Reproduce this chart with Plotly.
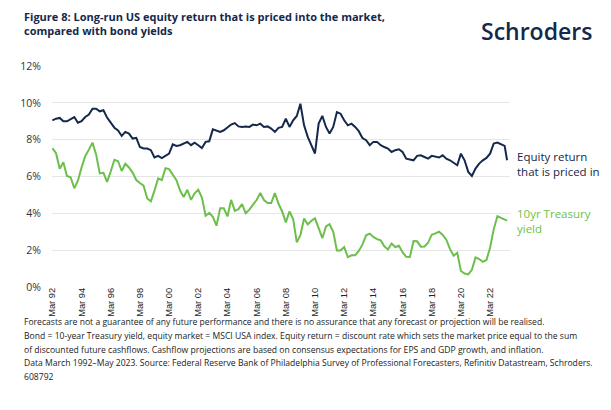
import pandas as pd
import plotly.graph_objects as go

# ---------------- data ----------------
dates = list(pd.date_range("1992-03-01", "2023-03-01", freq="3MS").strftime("%Y-%m-%d")) + ["2023-05-01"]

equity_return = [
    9.05, 9.14, 9.18, 9.00,   # 1992
    9.00, 9.14, 9.23, 8.92,   # 1993
    9.00, 9.23, 9.36, 9.68,   # 1994
    9.68, 9.54, 9.60, 9.20,   # 1995
    8.92, 8.65, 8.50, 8.20,   # 1996
    8.42, 8.33, 8.06, 8.10,   # 1997
    7.60, 7.52, 7.52, 7.43,   # 1998
    7.03, 7.12, 7.00, 7.12,   # 1999
    7.24, 7.75, 7.66, 7.70,   # 2000
    7.79, 7.88, 7.70, 7.84,   # 2001
    7.70, 7.55, 7.88, 7.91,   # 2002
    8.56, 8.51, 8.42, 8.51,   # 2003
    8.69, 8.82, 8.90, 8.72,   # 2004
    8.69, 8.72, 8.69, 8.82,   # 2005
    8.78, 8.87, 8.69, 8.72,   # 2006
    8.60, 8.42, 8.64, 8.69,   # 2007
    9.14, 8.69, 9.05, 9.29,   # 2008
    9.95, 8.78, 8.15, 7.66,   # 2009
    7.25, 8.87, 9.29, 8.69,   # 2010
    8.33, 8.69, 9.50, 9.41,   # 2011
    9.05, 8.78, 8.87, 8.69,   # 2012
    8.46, 8.09, 7.97, 7.70,   # 2013
    7.88, 7.88, 7.70, 7.60,   # 2014
    7.52, 7.33, 7.43, 7.48,   # 2015
    7.33, 6.97, 6.92, 6.88,   # 2016
    7.12, 7.15, 7.06, 6.97,   # 2017
    7.12, 7.06, 7.03, 7.15,   # 2018
    6.97, 6.88, 6.75, 6.61,   # 2019
    7.24, 6.88, 6.25, 6.03,   # 2020
    6.43, 6.70, 6.88, 7.01,   # 2021
    7.24, 7.79, 7.84, 7.73,   # 2022
    7.66, 6.88,               # 2023 (Mar, May)
]

treasury_yield = [
    7.54, 7.26, 6.42, 6.77,   # 1992
    6.03, 5.96, 5.36, 5.77,   # 1993
    6.48, 7.10, 7.46, 7.84,   # 1994
    7.20, 6.17, 6.20, 5.71,   # 1995
    6.27, 6.91, 6.83, 6.30,   # 1996
    6.69, 6.49, 6.21, 5.81,   # 1997
    5.65, 5.50, 4.81, 4.65,   # 1998
    5.23, 5.90, 5.80, 6.45,   # 1999
    6.40, 6.10, 5.80, 5.24,   # 2000
    4.89, 5.28, 4.73, 5.09,   # 2001
    5.28, 4.86, 3.87, 4.03,   # 2002
    3.81, 3.33, 4.27, 4.27,   # 2003
    3.83, 4.73, 4.13, 4.23,   # 2004
    4.50, 4.00, 4.20, 4.47,   # 2005
    4.72, 5.11, 4.72, 4.56,   # 2006
    4.56, 5.10, 4.52, 4.10,   # 2007
    3.51, 4.10, 3.69, 2.42,   # 2008
    2.82, 3.72, 3.40, 3.59,   # 2009
    3.73, 3.20, 2.65, 3.29,   # 2010
    3.41, 3.00, 1.98, 1.98,   # 2011
    2.17, 1.62, 1.72, 1.72,   # 2012
    1.96, 2.30, 2.81, 2.90,   # 2013
    2.72, 2.60, 2.53, 2.21,   # 2014
    2.04, 2.36, 2.17, 2.24,   # 2015
    1.89, 1.64, 1.63, 2.49,   # 2016
    2.48, 2.19, 2.20, 2.40,   # 2017
    2.84, 2.91, 3.00, 2.83,   # 2018
    2.57, 2.07, 1.70, 1.86,   # 2019
    0.87, 0.73, 0.68, 0.93,   # 2020
    1.61, 1.52, 1.37, 1.47,   # 2021
    2.13, 3.14, 3.85, 3.75,   # 2022
    3.65, 3.60,               # 2023 (Mar, May)
]

tick_dates = [f"{y}-03-01" for y in range(1992, 2023, 2)]
tick_labels = [f"Mar {str(y)[2:]}" for y in range(1992, 2023, 2)]
y_ticks = [0, 2, 4, 6, 8, 10, 12]
y_labels = [f"{v}%" for v in y_ticks]

title_text = ("Figure 8: Long-run US equity return that is priced into the market,<br>"
              "compared with bond yields")
footnote_lines = [
    "Forecasts are not a guarantee of any future performance and there is no assurance that any forecast or projection will be realised.",
    "Bond = 10-year Treasury yield, equity market = MSCI USA index. Equity return = discount rate which sets the market price equal to the sum",
    "of discounted future cashflows. Cashflow projections are based on consensus expectations for EPS and GDP growth, and inflation.",
    "Data March 1992\u2013May 2023. Source: Federal Reserve Bank of Philadelphia Survey of Professional Forecasters, Refinitiv Datastream, Schroders.",
    "608792",
]

# ---------------- styling ----------------
NAVY = "#14284b"
GREEN = "#6dbf4b"
FONT = "Open Sans"
W, H = 611, 410
L, R, T, B = 40, 109, 58, 131
PW, PH = W - L - R, H - T - B


def px(x):
    return (x - L) / PW


def py(y):
    return (H - B - y) / PH


fig = go.Figure()
fig.add_trace(go.Scatter(x=dates, y=equity_return, mode="lines",
                         line=dict(color=NAVY, width=2), hoverinfo="skip"))
fig.add_trace(go.Scatter(x=dates, y=treasury_yield, mode="lines",
                         line=dict(color=GREEN, width=2), hoverinfo="skip"))

annotations = [
    dict(text=title_text, x=px(10), y=py(-1), xanchor="left", yanchor="top", align="left",
         font=dict(family=FONT, size=11, color=NAVY, weight="bold")),
    dict(text="Schroders", x=px(529), y=py(23), xanchor="center", yanchor="middle",
         font=dict(family=FONT, size=23, color=NAVY, weight=600)),
    dict(text="Equity return<br>that is priced in", x=px(507), y=py(156), xanchor="left",
         yanchor="middle", align="left", font=dict(family=FONT, size=11.5, color=NAVY)),
    dict(text="10yr Treasury<br>yield", x=px(507), y=py(213), xanchor="left",
         yanchor="middle", align="left", font=dict(family=FONT, size=11.5, color=GREEN)),
]
for i, line in enumerate(footnote_lines):
    annotations.append(dict(text=line, x=px(10), y=py(314 + 13.8 * i), xanchor="left",
                            yanchor="middle", align="left",
                            font=dict(family=FONT, size=8.6, color="#222222")))
for a in annotations:
    a.update(xref="paper", yref="paper", showarrow=False)

fig.update_layout(
    width=W, height=H, margin=dict(l=L, r=R, t=T, b=B),
    paper_bgcolor="white", plot_bgcolor="white", showlegend=False,
    font=dict(family=FONT, color="#333333"),
    annotations=annotations,
    xaxis=dict(type="date", range=["1992-02-21", "2023-07-13"], tickmode="array",
               tickvals=tick_dates, ticktext=tick_labels, tickangle=-90, showgrid=False,
               zeroline=False, showline=False, ticks="", ticklabelstandoff=-2,
               tickfont=dict(family="Liberation Sans", size=9.3, color="#222222")),
    yaxis=dict(range=[0, 12], tickmode="array", tickvals=y_ticks, ticktext=y_labels,
               showgrid=True, gridcolor="#e6e6e6", gridwidth=1, zeroline=False, showline=False,
               ticks="", ticklabelstandoff=10, tickfont=dict(size=10.5, color="#333333")),
)

fig.write_html("out.html")
